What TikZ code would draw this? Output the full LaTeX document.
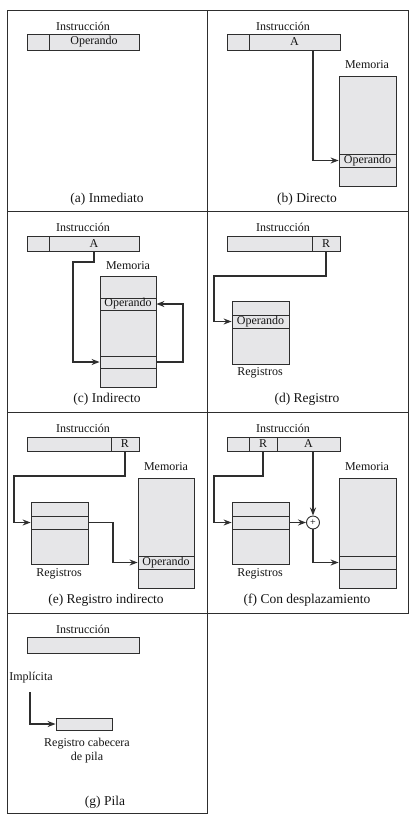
\documentclass[tikz,border=0pt]{standalone}
\usepackage{fontspec}
\setmainfont{Liberation Serif}
\usetikzlibrary{arrows.meta,calc}
\definecolor{cellfill}{HTML}{E6E6E8}
\definecolor{linec}{HTML}{2E2E2E}
\definecolor{txtc}{HTML}{141414}
\newcommand\mycell[6]{\node[cell,minimum width={#4-#2},minimum height={#5-#3}] (#1) at ({(#2+#4)/2},{(#3+#5)/2}) {#6};}
\tikzset{
  cell/.style={draw=linec,fill=cellfill,line width=0.8pt,inner sep=0pt,text=txtc,font=\fontsize{12}{13}\selectfont},
  lbl/.style={text=txtc,font=\fontsize{12}{13}\selectfont,inner sep=0pt},
  captxt/.style={text=txtc,font=\fontsize{13.5}{15}\selectfont,inner sep=0pt},
  arr/.style={draw=linec,line width=1.4pt,-{Stealth[length=8pt,width=6pt]}},
  frame/.style={draw=linec,line width=1pt},
  sumc/.style={circle,draw=linec,fill=white,line width=0.9pt,minimum size=13pt,inner sep=0pt,font=\fontsize{10}{10}\selectfont}
}
\begin{document}
\begin{tikzpicture}[x=1pt,y=-1pt]
\useasboundingbox (0,0) rectangle (416,820);
% frames
\draw[frame] (7,10) rectangle (408,613);
\draw[frame] (7,613) rectangle (207,813);
\draw[frame] (207,10) -- (207,613);
\draw[frame] (7,211) -- (408,211);
\draw[frame] (7,412) -- (408,412);

% ---------- (a) Inmediato
\node[lbl] (ainstr) at (83,26) {Instrucción};
\mycell{aop0}{27}{34}{49}{50}{}
\mycell{aop}{49}{34}{139}{50}{Operando}
\node[captxt] (acap) at (107,199) {(a) Inmediato};

% ---------- (b) Directo
\node[lbl] (binstr) at (283,26) {Instrucción};
\mycell{bop0}{227}{34}{249}{50}{}
\mycell{bA}{249}{34}{340}{50}{A}
\node[lbl] (bmemt) at (367,65) {Memoria};
\mycell{bmem}{339}{76}{396}{186}{}
\mycell{bop}{339}{154}{396}{167}{Operando}
\coordinate (bstart) at (313,50);
\draw[arr] (bstart) |- (bop.west);
\node[captxt] (bcap) at (307,199) {(b) Directo};

% ---------- (c) Indirecto
\node[lbl] (cinstr) at (83,227) {Instrucción};
\mycell{cop0}{27}{236}{49}{251}{}
\mycell{cA}{49}{236}{139}{251}{A}
\node[lbl] (cmemt) at (128,266) {Memoria};
\mycell{cmem}{100}{276}{156}{387}{}
\mycell{cop}{100}{298}{156}{310}{Operando}
\mycell{cptr}{100}{356}{156}{368}{}
\coordinate (cbend) at (73,262);
\coordinate (cright) at (183,362);
\draw[arr] (cA.south) |- (cbend) |- (cptr.west);
\draw[arr] (cptr.east) -- (cright) |- (cop.east);
\node[captxt] (ccap) at (107,399) {(c) Indirecto};

% ---------- (d) Registro
\node[lbl] (dinstr) at (283,227) {Instrucción};
\mycell{dop0}{227}{236}{312}{251}{}
\mycell{dR}{312}{236}{340}{251}{R}
\mycell{dreg}{232}{301}{289}{364}{}
\mycell{dop}{232}{315}{289}{328}{Operando}
\node[lbl] (dregt) at (260,373) {Registros};
\coordinate (dbend) at (214,276);
\draw[arr] (dR.south) |- (dbend) |- (dop.west);
\node[captxt] (dcap) at (307,399) {(d) Registro};

% ---------- (e) Registro indirecto
\node[lbl] (einstr) at (83,428) {Instrucción};
\mycell{eop0}{27}{437}{111}{451}{}
\mycell{eR}{111}{437}{139}{451}{R}
\mycell{eregs}{31}{502}{88}{564}{}
\mycell{ereg}{31}{516}{88}{529}{}
\node[lbl] (eregt) at (59,574) {Registros};
\node[lbl] (ememt) at (166,467) {Memoria};
\mycell{emem}{138}{478}{194}{588}{}
\mycell{eop}{138}{556}{194}{569}{Operando}
\coordinate (ebend) at (14,476);
\coordinate (emid) at (113,522.5);
\draw[arr] (eR.south) |- (ebend) |- (ereg.west);
\draw[arr] (ereg.east) -- (emid) |- (eop.west);
\node[captxt] (ecap) at (106,600) {(e) Registro indirecto};

% ---------- (f) Con desplazamiento
\node[lbl] (finstr) at (283,428) {Instrucción};
\mycell{fop0}{227}{437}{249}{451}{}
\mycell{fR}{249}{437}{277}{451}{R}
\mycell{fA}{277}{437}{340}{451}{A}
\mycell{fregs}{232}{502}{289}{564}{}
\mycell{freg}{232}{516}{289}{529}{}
\node[lbl] (fregt) at (260,574) {Registros};
\node[lbl] (fmemt) at (367,467) {Memoria};
\mycell{fmem}{339}{478}{396}{588}{}
\mycell{fop}{339}{556}{396}{569}{}
\node[sumc] (plus) at (313,522.5) {+};
\coordinate (fbend) at (214,476);
\draw[arr] (fR.south) |- (fbend) |- (freg.west);
\draw[arr] (freg.east) -- (plus.west);
\draw[arr] (plus |- fA.south) -- (plus.north);
\draw[arr] (plus.south) |- (fop.west);
\node[captxt] (fcap) at (307,600) {(f) Con desplazamiento};

% ---------- (g) Pila
\node[lbl] (ginstr) at (83,629) {Instrucción};
\mycell{ginst}{27}{637}{139}{653}{}
\node[lbl] (gimp) at (31,678) {Implícita};
\mycell{gstack}{56}{718}{112}{730}{}
\coordinate (gstart) at (30,692);
\draw[arr] (gstart) |- (gstack.west);
\node[lbl,align=center] (gstackt) at (87,751) {Registro cabecera\\[1pt]de pila};
\node[captxt] (gcap) at (105,802) {(g) Pila};
\end{tikzpicture}
\end{document}
